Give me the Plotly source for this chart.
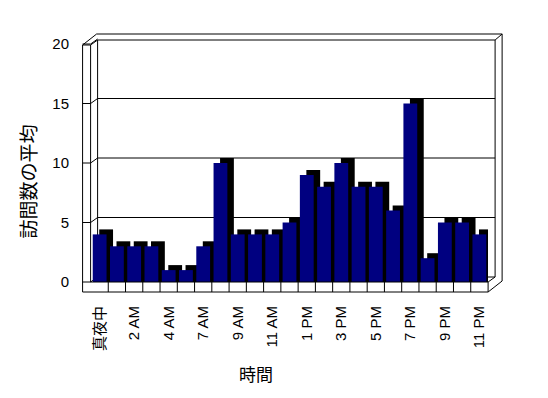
import plotly.graph_objects as go

# ---- data ----
categories = ["真夜中", "1 AM", "2 AM", "3 AM", "4 AM", "5 AM", "7 AM", "8 AM", "9 AM",
              "10 AM", "11 AM", "正午", "1 PM", "2 PM", "3 PM", "4 PM", "5 PM", "6 PM",
              "7 PM", "8 PM", "9 PM", "10 PM", "11 PM"]
visits = [4, 3, 3, 3, 1, 1, 3, 10, 4, 4, 4, 5, 9, 8, 10, 8, 8, 6, 15, 2, 5, 5, 4]
y_ticks = [0, 5, 10, 15, 20]
x_title = "時間"
y_title = "訪問数の平均"

# ---- geometry (pixels) ----
W, H = 548, 398
L, R, T, B = 91.4, 487.9, 44.0, 282.0   # plot area (front plane)
PW, PH = R - L, B - T
def px(x):
    return (x - L) / PW
def py(y):
    return (B - y) / PH
unit = PH / 20.0
cat_w = PW / len(categories)
DX, DY = 6.5, 5.0  # depth offset of the 3D effect
dx_cat = DX / cat_w
dy_val = DY / unit

FONT = "Liberation Sans, Arial, Noto Sans CJK JP, sans-serif"
CJK = "Noto Sans CJK JP, Liberation Sans, sans-serif"

fig = go.Figure()
# shadow (side/top faces)
fig.add_trace(go.Bar(x=categories, y=[v + dy_val for v in visits], base=0,
                     width=0.8, offset=-0.4 + dx_cat,
                     marker=dict(color="#000000", line=dict(width=0)),
                     hoverinfo="skip", showlegend=False))
# front faces
fig.add_trace(go.Bar(x=categories, y=visits, width=0.8, offset=-0.4,
                     marker=dict(color="#000080", line=dict(width=0)),
                     showlegend=False))

shapes = []
def line(x0, y0, x1, y1, layer="below"):
    shapes.append(dict(type="line", xref="paper", yref="paper",
                       x0=px(x0), y0=py(y0), x1=px(x1), y1=py(y1),
                       line=dict(color="black", width=1), layer=layer))

# left wall
line(83, 45, 83, 292)
line(91, 45, 91, 282)
line(83, 45, 91, 45)
line(83, 45, 97, 34)
line(91, 45, 98, 40)
# back wall
line(97, 34, 502, 34)
line(98, 40, 495, 40)
line(98, 40, 98, 277)
line(495, 40, 495, 277)
line(502, 34, 502, 281)
line(495, 40, 502, 34)
# floor
line(83, 292, 488, 292, "above")
line(91, 282, 488, 282, "above")
line(488, 282, 488, 292, "above")
line(488, 292, 502, 281, "above")
line(488, 282, 495, 277, "above")
line(98, 277, 495, 277)
# gridlines on back wall + ticks on left wall
for v in y_ticks:
    yf = B - v * unit
    yb = yf - DY
    if 0 < v < 20:
        line(98, yb, 495, yb)
    line(83, yf, 91, yf)
    line(91, yf, 98, yb)
# floor dividers at category boundaries
for k in range(len(categories) - 1):
    xb = L + (k + 1) * cat_w
    line(xb, 282, xb, 292, "above")

fig.update_layout(
    width=W, height=H, autosize=False,
    margin=dict(l=L, r=W - R, t=T, b=H - B, pad=0),
    paper_bgcolor="white", plot_bgcolor="rgba(0,0,0,0)",
    barmode="overlay", bargap=0.2,
    shapes=shapes,
    font=dict(family=FONT, size=15, color="black"),
    xaxis=dict(type="category", categoryarray=categories, range=[-0.5, len(categories) - 0.5],
               tickvals=categories[::2], tickangle=-90, ticks="", ticklabelstandoff=20,
               showgrid=False, zeroline=False, showline=False,
               tickfont=dict(family=FONT, size=15)),
    yaxis=dict(range=[0, 20], tickvals=y_ticks, ticks="", ticklabelstandoff=21,
               showgrid=False, zeroline=False, showline=False,
               tickfont=dict(family=FONT, size=15)),
    annotations=[
        dict(text=x_title, xref="paper", yref="paper", x=px(256.5), y=py(373),
             showarrow=False, font=dict(family=CJK, size=17), xanchor="center", yanchor="middle"),
        dict(text=y_title, xref="paper", yref="paper", x=px(28), y=py(182),
             showarrow=False, textangle=-90, font=dict(family=CJK, size=19),
             xanchor="center", yanchor="middle"),
    ],
)

fig.write_html("out.html", config={"displayModeBar": False},
               post_script="document.body.style.margin='0';document.body.style.padding='0';")
